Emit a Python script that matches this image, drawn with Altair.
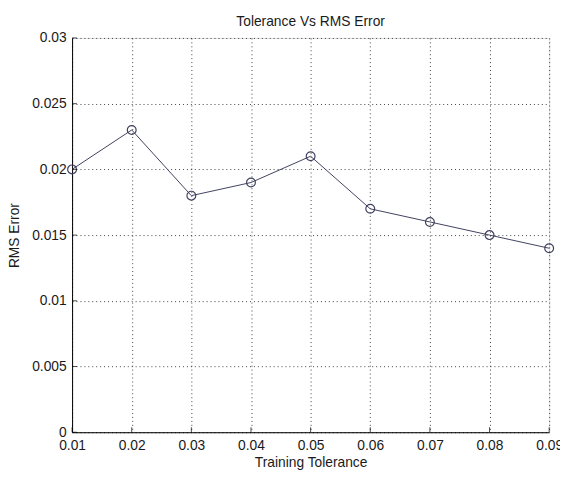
import altair as alt
import pandas as pd

tolerance = [0.01, 0.02, 0.03, 0.04, 0.05, 0.06, 0.07, 0.08, 0.09]
rms_error = [0.020, 0.023, 0.018, 0.019, 0.021, 0.017, 0.016, 0.015, 0.014]
x_ticks = [0.01, 0.02, 0.03, 0.04, 0.05, 0.06, 0.07, 0.08, 0.09]
y_ticks = [0, 0.005, 0.01, 0.015, 0.02, 0.025, 0.03]
title_text = "Tolerance Vs RMS Error"

W, H = 484, 400
df = pd.DataFrame({"tol": tolerance, "rms": rms_error})
dfx = pd.DataFrame({"tol": x_ticks})
dfy = pd.DataFrame({"rms": y_ticks})
dft = pd.DataFrame({"t": [title_text]})

line_color = "#40415e"
font = "Liberation Sans"
txt = "#1a1a1a"

xscale = alt.Scale(domain=[0.01, 0.09], nice=False, zero=False)
yscale = alt.Scale(domain=[0, 0.03], nice=False)

x = alt.X("tol:Q", scale=xscale,
          axis=alt.Axis(values=x_ticks, format=".2f", title="Training Tolerance",
                        grid=True, gridDash=[1, 3], gridColor="#000000", gridOpacity=0.75,
                        domainColor="#000000", ticks=False, labelFlush=False,
                        labelFont=font, labelFontSize=14, labelColor=txt,
                        titleFont=font, titleFontSize=14, titleFontWeight="normal",
                        titleColor=txt, titlePadding=3, labelPadding=7))
y = alt.Y("rms:Q", scale=yscale,
          axis=alt.Axis(values=y_ticks, format="~g", title="RMS Error",
                        grid=True, gridDash=[1, 3], gridColor="#000000", gridOpacity=0.75,
                        domainColor="#000000", ticks=False, labelFlush=False,
                        labelFont=font, labelFontSize=14, labelColor=txt,
                        titleFont=font, titleFontSize=14, titleFontWeight="normal",
                        titleColor=txt, titlePadding=10, labelPadding=6))

line = alt.Chart(df).mark_line(color=line_color, strokeWidth=1).encode(x=x, y=y)
pts = alt.Chart(df).mark_point(shape="circle", filled=False, color=line_color,
                               size=80, strokeWidth=1.2, opacity=1).encode(x=x, y=y)
xt = alt.Chart(dfx).mark_tick(color="#000000", size=5, thickness=1, orient="vertical").encode(
    x=alt.X("tol:Q", scale=xscale), y=alt.value(H - 2.5))
yt = alt.Chart(dfy).mark_tick(color="#000000", size=5, thickness=1, orient="horizontal").encode(
    y=alt.Y("rms:Q", scale=yscale), x=alt.value(2.5))
ttl = alt.Chart(dft).mark_text(font=font, fontSize=14, color=txt, align="center",
                               baseline="alphabetic").encode(
    text="t:N", x=alt.value(W / 2), y=alt.value(-12))

chart = alt.layer(line, pts, xt, yt, ttl).properties(
    width=W, height=H,
    autosize=alt.AutoSizeParams(type="none"),
    padding={"left": 65, "top": 27, "right": 11, "bottom": 40},
).configure_view(stroke=None).configure(background="#ffffff")

chart.save("out.html", embed_options={"renderer": "svg", "actions": False})
